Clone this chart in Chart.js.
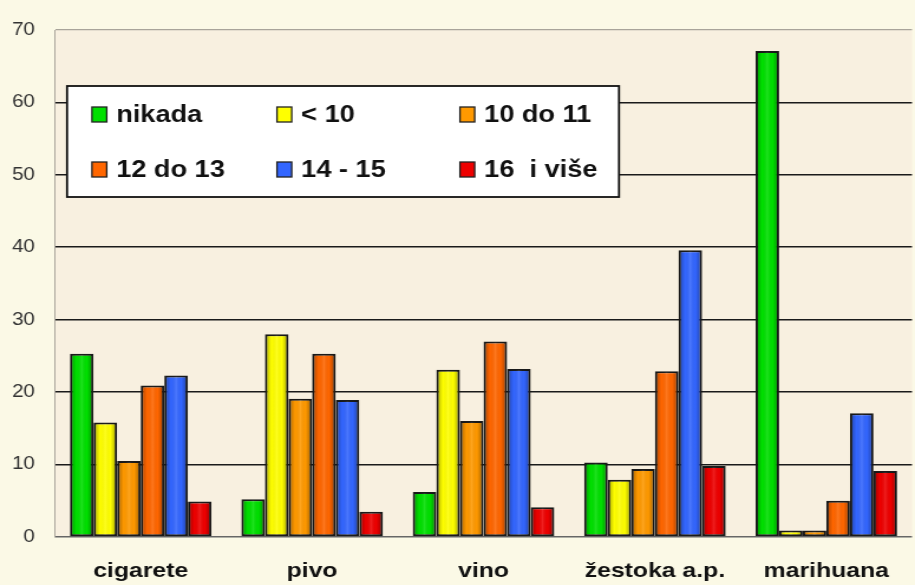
<!DOCTYPE html>
<html>
<head>
<meta charset="utf-8">
<script src="https://cdn.jsdelivr.net/npm/chart.js@4/dist/chart.umd.min.js"></script>
<style>
  html, body { margin: 0; padding: 0; background: #fbf9e6; overflow: hidden; }
  #wrap { width: 775px; height: 585px; transform: scaleX(1.1806); transform-origin: 0 0; }
</style>
</head>
<body>
<div id="wrap"><canvas id="myChart" width="775" height="585"></canvas></div>
<script>
// values (percent)
const categories = ['cigarete', 'pivo', 'vino', 'žestoka a.p.', 'marihuana'];
const seriesNames = ['nikada', '< 10', '10 do 11', '12 do 13', '14 - 15', '16  i više'];
const nikada  = [25.3, 5.2, 6.2, 10.3, 67.1];
const manje10 = [15.8, 28.0, 23.1, 7.9, 0.9];
const od10do11 = [10.5, 19.1, 16.0, 9.4, 0.9];
const od12do13 = [20.9, 25.3, 27.0, 22.9, 5.0];
const od14do15 = [22.3, 18.9, 23.2, 39.6, 17.1];
const od16 = [4.9, 3.5, 4.1, 9.8, 9.1];
const yTicks = [0, 10, 20, 30, 40, 50, 60, 70];

const colors = ['#00e000', '#ffff00', '#ff9900', '#ff6600', '#3366ff', '#ee0000'];
const values = [nikada, manje10, od10do11, od12do13, od14do15, od16];

const backgrounds = {
    id: 'backgrounds',
    beforeDraw(chart) {
        const c = chart.ctx, a = chart.chartArea;
        c.save();
        c.fillStyle = '#fbf9e6';
        c.fillRect(0, 0, chart.width, chart.height);
        c.fillStyle = '#f8f0e0';
        c.fillRect(a.left, a.top, a.right - a.left, a.bottom - a.top);
        c.restore();
    }
};

// soft cylinder shading on every bar, using the positions the bar elements got
const barShade = {
    id: 'barShade',
    afterDatasetsDraw(chart) {
        const c = chart.ctx;
        c.save();
        chart.data.datasets.forEach((ds, di) => {
            chart.getDatasetMeta(di).data.forEach(bar => {
                const p = bar.getProps(['x', 'y', 'base', 'width'], true);
                const left = p.x - p.width / 2 + 1.2, right = p.x + p.width / 2 - 1.2;
                const top = Math.min(p.y, p.base) + 1.2, bottom = Math.max(p.y, p.base) - 1.2;
                if (bottom - top < 1) return;
                const g = c.createLinearGradient(left, 0, right, 0);
                g.addColorStop(0, 'rgba(0,0,0,0.28)');
                g.addColorStop(0.25, 'rgba(0,0,0,0)');
                g.addColorStop(0.5, 'rgba(255,255,255,0.12)');
                g.addColorStop(0.75, 'rgba(0,0,0,0)');
                g.addColorStop(1, 'rgba(0,0,0,0.3)');
                c.fillStyle = g;
                c.fillRect(left, top, right - left, bottom - top);
            });
        });
        c.restore();
    }
};

// legend box sitting inside the plot, 3 columns x 2 rows
const boxLegend = {
    id: 'boxLegend',
    afterDraw(chart) {
        const c = chart.ctx;
        c.save();
        c.fillStyle = '#ffffff';
        c.fillRect(56.8, 86, 467.5, 111);
        c.strokeStyle = '#111';
        c.lineWidth = 1.8;
        c.strokeRect(56.8, 86, 467.5, 111);
        const colX = [77.9, 234.6, 389.6];
        const rowY = [114.5, 169.5];
        c.font = 'bold 23px "Liberation Sans", Arial, sans-serif';
        c.textBaseline = 'middle';
        chart.data.datasets.forEach((ds, i) => {
            const x = colX[i % 3], y = rowY[Math.floor(i / 3)];
            c.fillStyle = ds.backgroundColor;
            c.fillRect(x, y - 7.5, 12.5, 15);
            c.strokeStyle = '#222';
            c.lineWidth = 1.3;
            c.strokeRect(x, y - 7.5, 12.5, 15);
            c.fillStyle = '#111';
            c.fillText(ds.label, x + 20.5, y + 1);
        });
        c.restore();
    }
};

const ctx = document.getElementById('myChart').getContext('2d');
const myChart = new Chart(ctx, {
    type: 'bar',
    data: {
        labels: categories,
        datasets: seriesNames.map((name, i) => ({
            label: name,
            data: values[i],
            backgroundColor: colors[i],
            borderColor: '#1a1a1a',
            borderWidth: 2,
            borderSkipped: false,
            barPercentage: 1,
            categoryPercentage: 0.826
        }))
    },
    options: {
        responsive: false,
        animation: false,
        layout: { padding: { top: 30, left: 0, right: 0, bottom: 0 } },
        plugins: {
            legend: { display: false },
            tooltip: { enabled: false }
        },
        scales: {
            x: {
                grid: { display: false, drawTicks: false },
                border: { display: false },
                ticks: {
                    color: '#111',
                    padding: 22,
                    maxRotation: 0,
                    font: { family: '"Liberation Sans", Arial, sans-serif', size: 21, weight: 'bold' }
                },
                afterFit(s) { s.height = 48; }
            },
            y: {
                min: 0,
                max: 70,
                afterBuildTicks(s) { s.ticks = yTicks.map(v => ({ value: v })); },
                grid: {
                    drawTicks: false,
                    color: c => (c.tick.value === 70 ? '#a8a49a' : c.tick.value === 0 ? '#666' : '#1a1a1a'),
                    lineWidth: c => (c.tick.value === 70 ? 1.2 : 1.6)
                },
                border: { display: true, color: '#a8a49a', width: 1 },
                ticks: {
                    color: '#333',
                    padding: 17,
                    font: { family: '"Liberation Sans", Arial, sans-serif', size: 17.5 }
                },
                afterFit(s) { s.width = 46.6; }
            }
        }
    },
    plugins: [backgrounds, barShade, boxLegend]
});
</script>
</body>
</html>
